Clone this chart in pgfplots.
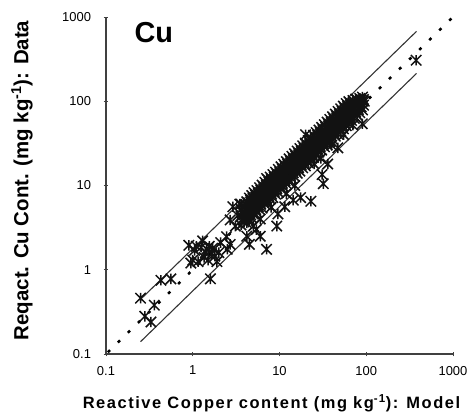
\documentclass[border=0pt]{standalone}
\usepackage{pgfplots}
\pgfplotsset{compat=1.18}
\usepackage{fontspec}
\setmainfont{Liberation Sans}
\newfontfamily\spaced[LetterSpace=9.5]{Liberation Sans}
\pgfdeclareplotmark{xast}{%
  \pgfpathmoveto{\pgfqpoint{-\pgfplotmarksize}{-\pgfplotmarksize}}%
  \pgfpathlineto{\pgfqpoint{\pgfplotmarksize}{\pgfplotmarksize}}%
  \pgfpathmoveto{\pgfqpoint{-\pgfplotmarksize}{\pgfplotmarksize}}%
  \pgfpathlineto{\pgfqpoint{\pgfplotmarksize}{-\pgfplotmarksize}}%
  \pgfpathmoveto{\pgfqpoint{0pt}{-\pgfplotmarksize}}%
  \pgfpathlineto{\pgfqpoint{0pt}{\pgfplotmarksize}}%
  \pgfusepathqstroke}
\pgfplotstableread{
x y
0.25 0.46
0.28 0.28
0.36 0.38
0.33 0.24
0.43 0.75
0.56 0.78
1.6 0.78
0.9 1.95
0.95 1.2
1.0 1.3
1.05 1.7
1.1 1.9
1.15 1.25
1.25 1.85
1.3 2.2
1.35 1.4
1.4 1.6
1.45 1.75
1.5 1.3
1.55 1.9
1.65 1.55
1.7 1.8
1.8 1.45
1.9 1.25
2.0 1.6
2.1 2.1
2.45 2.47
2.7 2.0
2.5 1.75
2.9 5.6
2.7 3.9
3.1 3.3
3.3 4.4
4.2 2.5
4.5 2.0
5.4 3.0
6.0 2.5
7.1 1.75
9.3 3.3
9.6 4.6
11.5 5.6
14.4 6.7
17.5 7.2
23 6.5
32 10.5
31 13.5
36 18
47 28
90 54
95 100
71 78.7
20 40
7.1 12.1
3.5 6.0
25 18
30 21
40 30
55 40
70 52
15 10
12 8
8 5.5
6 4.0
5 3.3
3.6 3.4
3.6 4.3
3.6 5.2
3.6 6.0
3.9 3.7
3.9 4.5
3.9 5.6
4.2 3.6
4.2 4.4
4.2 5.3
4.2 6.4
4.5 3.9
4.5 4.9
4.5 5.9
4.5 7.1
4.8 4.1
4.8 5.3
4.8 6.3
4.8 7.6
5.1 4.6
5.1 5.6
5.1 6.8
5.1 8.2
5.5 4.8
5.5 6.0
5.5 7.3
5.5 8.7
5.9 5.2
5.9 6.6
5.9 7.9
5.9 9.4
6.3 5.4
6.3 7.0
6.3 8.4
6.3 10.1
6.8 6.0
6.8 7.5
6.8 9.1
6.8 10.9
7.3 6.3
7.3 8.1
7.3 9.8
7.3 11.7
7.8 6.9
7.8 8.7
7.8 10.4
7.8 12.6
8.4 7.2
8.4 9.3
8.4 11.2
8.4 13.5
9.0 7.9
9.0 10.0
9.0 12.1
9.0 14.4
9.7 8.3
9.7 10.8
9.7 13.0
9.7 15.5
10.4 9.1
10.4 11.5
10.4 13.9
10.4 16.7
11.2 9.6
11.2 12.4
11.2 15.0
11.2 17.9
12.0 10.5
12.0 13.3
12.0 16.1
12.0 19.2
12.9 11.1
12.9 14.3
12.9 17.3
12.9 20.7
13.9 12.1
13.9 15.4
13.9 18.6
13.9 22.2
14.9 12.8
14.9 16.5
14.9 20.0
14.9 23.8
16.0 14.0
16.0 17.8
16.0 21.4
16.0 25.6
17.2 14.8
17.2 19.1
17.2 23.1
17.2 27.5
18.5 16.2
18.5 20.5
18.5 24.8
18.5 29.6
19.9 17.1
19.9 22.0
19.9 26.7
19.9 31.8
21.4 18.7
21.4 23.7
21.4 28.7
21.4 34.2
23.0 19.8
23.0 25.5
23.0 30.8
23.0 36.8
24.7 21.6
24.7 27.4
24.7 33.1
24.7 39.5
26.5 22.8
26.5 29.4
26.5 35.5
26.5 42.4
28.5 24.9
28.5 31.6
28.5 38.2
28.5 45.6
30.6 26.3
30.6 34.0
30.6 41.0
30.6 49.0
32.9 28.8
32.9 36.5
32.9 44.1
32.9 52.6
35.4 30.4
35.4 39.3
35.4 47.4
35.4 56.6
38.0 33.2
38.0 42.2
38.0 50.9
38.0 60.8
40.9 35.2
40.9 45.4
40.9 54.8
40.9 65.4
44.0 38.5
44.0 48.8
44.0 59.0
44.0 70.4
47.3 40.7
47.3 52.5
47.3 63.4
47.3 75.7
50.8 44.4
50.8 56.4
50.8 68.1
50.8 81.3
54.6 47.0
54.6 60.6
54.6 73.2
54.6 87.4
58.7 51.3
58.7 65.2
58.7 78.7
58.7 93.9
63.1 54.3
63.1 70.0
63.1 84.6
63.1 99.0
67.8 59.2
67.8 75.3
67.8 90.9
72.9 62.7
72.9 80.9
72.9 97.7
78.4 68.6
78.4 87.0
78.4 104
84.2 73.3
84.2 93.5
84.2 108
90.5 79.0
90.5 100
90.5 112
3.75 4.0
3.75 4.8
4.05 4.2
4.05 5.0
4.05 5.9
4.35 4.0
4.35 5.2
4.35 6.2
4.65 4.5
4.65 5.6
4.65 6.7
4.95 4.6
4.95 5.9
4.95 7.1
5.3 5.2
5.3 6.4
5.3 7.7
5.7 5.6
5.7 6.9
5.7 8.2
6.1 6.0
6.1 7.4
6.1 8.8
6.55 6.4
6.55 7.9
6.55 9.5
7.05 6.9
7.05 8.5
7.05 10.2
7.55 7.4
7.55 9.1
7.55 11.0
8.1 7.9
8.1 9.8
8.1 11.8
8.7 8.5
8.7 10.5
8.7 12.6
9.35 9.2
9.35 11.3
9.35 13.6
10.0 9.9
10.0 12.1
10.0 14.6
10.8 10.6
10.8 13.0
10.8 15.7
11.6 11.4
11.6 14.0
11.6 16.9
12.4 12.2
12.4 15.0
12.4 18.0
13.4 13.2
13.4 16.2
13.4 19.4
14.4 14.2
14.4 17.4
14.4 20.9
15.4 15.1
15.4 18.6
15.4 22.4
16.6 16.3
16.6 20.0
16.6 24.0
17.8 17.5
17.8 21.6
17.8 25.8
19.2 18.9
19.2 23.2
19.2 27.8
20.6 20.2
20.6 24.9
20.6 29.9
22.2 21.8
22.2 26.8
22.2 32.2
23.8 23.4
23.8 28.8
23.8 34.5
25.6 25.1
25.6 31.0
25.6 37.1
27.5 27.0
27.5 33.3
27.5 39.9
29.5 29.0
29.5 35.7
29.5 42.8
31.7 31.1
31.7 38.4
31.7 46.0
34.1 33.5
34.1 41.3
34.1 49.4
36.7 36.0
36.7 44.4
36.7 53.2
39.4 38.7
39.4 47.7
39.4 57.1
42.4 41.6
42.4 51.3
42.4 61.5
45.6 44.8
45.6 55.2
45.6 66.1
49.0 48.1
49.0 59.3
49.0 71.1
52.7 51.7
52.7 63.8
52.7 76.4
56.6 55.6
56.6 68.5
56.6 82.1
60.9 59.8
60.9 73.7
60.9 88.3
65.4 64.2
65.4 79.1
65.4 94.8
70.3 69.0
70.3 85.1
70.3 102
75.6 74.2
75.6 91.5
75.6 106
81.3 79.8
81.3 98.4
87.3 85.7
87.3 104
93 90
93 105
376 307
}\cudata
\begin{document}
\begin{tikzpicture}
\path[use as bounding box] (-106bp,-65bp) rectangle (364bp,354bp);
\begin{axis}[
  scale only axis, width=347bp, height=337bp,
  xmode=log, ymode=log,
  xmin=0.1, xmax=1000, ymin=0.1, ymax=1000,
  axis x line=bottom, axis y line=left,
  axis line style={-, black!75, line width=1.1bp},
  tick align=center, major tick length=5bp,
  tick style={black!75, line width=0.9bp},
  minor tick num=0, minor tick length=0pt,
  xtick={0.1,1,10,100,1000}, xticklabels={0.1,1,10,100,1000},
  ytick={0.1,1,10,100,1000}, yticklabels={0.1,1,10,100,1000},
  xticklabel style={font=\fontsize{13}{13}\selectfont, yshift=-6bp},
  yticklabel style={font=\fontsize{13}{13}\selectfont, xshift=-9bp},
  xlabel={\spaced\bfseries Reactive Copper content (mg kg\textsuperscript{-1}): Model},
  ylabel={\bfseries Reqact. Cu Cont. (mg kg\textsuperscript{-1}): Data},
  xlabel style={at={(axis description cs:0.5,0)}, anchor=center, yshift=-49bp, xshift=-8bp, font=\fontsize{16.5}{16.5}\selectfont},
  ylabel style={at={(axis description cs:0,0.5)}, anchor=center, yshift=84bp, xshift=5bp, font=\fontsize{20.5}{20.5}\selectfont},
]
\addplot[black!80, line width=1.1bp] coordinates {(0.25,0.445) (380,676)};
\addplot[black!80, line width=1.1bp] coordinates {(0.25,0.14) (380,214)};
\addplot[black, line width=2.5bp, dash pattern=on 3bp off 11bp] coordinates {(0.105,0.105) (1000,1000)};
\addplot[only marks, mark=xast, mark size=5.2bp, black!93, mark options={line width=1.5bp}] table {\cudata};
\node[font=\fontsize{29}{29}\selectfont\bfseries] at (rel axis cs:0.138,0.953) {Cu};
\end{axis}
\end{tikzpicture}
\end{document}
